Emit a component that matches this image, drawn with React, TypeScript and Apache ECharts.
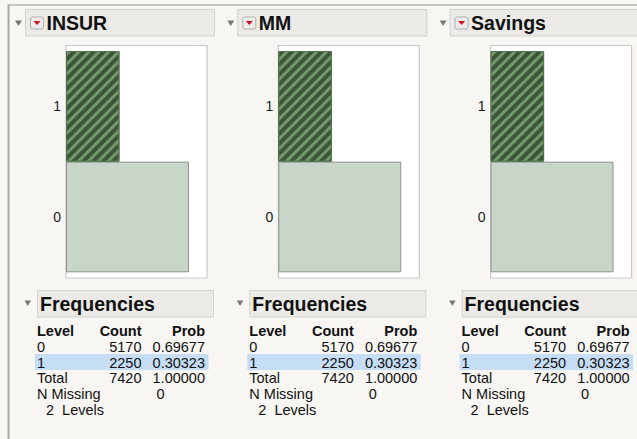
import React, { useEffect, useRef } from "react";
import * as echarts from "echarts";

const variables = ["INSUR", "MM", "Savings"];
const levels = ["0", "1"];
const counts = [
  [5170, 2250],
  [5170, 2250],
  [5170, 2250],
];
const probs = [
  ["0.69677", "0.30323"],
  ["0.69677", "0.30323"],
  ["0.69677", "0.30323"],
];
const totals = [7420, 7420, 7420];
const totalProbs = ["1.00000", "1.00000", "1.00000"];
const nMissing = [0, 0, 0];
const nLevels = [2, 2, 2];
const AXIS_MAX = 5930;

const FONT = "'Liberation Sans', Arial, Helvetica, sans-serif";
const BG = "#f7f6f3";
const DX = 212.3;

export default function App() {
  const ref = useRef<HTMLDivElement>(null);
  useEffect(() => {
    if (!ref.current) return;
    const chart = echarts.init(ref.current, undefined, { renderer: "svg" });

    const grids: any[] = [];
    const xAxes: any[] = [];
    const yAxes: any[] = [];
    const series: any[] = [];
    const graphics: any[] = [];

    graphics.push({
      type: "line",
      z: 0,
      shape: { x1: 8, y1: 5, x2: 637, y2: 5 },
      style: { stroke: "#b3b3b3", lineWidth: 1.5 },
    });
    graphics.push({
      type: "line",
      z: 0,
      shape: { x1: 8.5, y1: 5, x2: 8.5, y2: 439 },
      style: { stroke: "#a6a6a6", lineWidth: 2 },
    });

    variables.forEach((name, i) => {
      const o = i * DX;
      graphics.push({
        type: "rect",
        z: 0,
        shape: { x: 25.5 + o, y: 9.5, width: 189, height: 26.5 },
        style: { fill: "#ebeae6", stroke: "#d3d2ce", lineWidth: 1 },
      });
      graphics.push({
        type: "polygon",
        z: 1,
        shape: { points: [[15 + o, 20.5], [22 + o, 20.5], [18.5 + o, 26]] },
        style: { fill: "#787878" },
      });
      graphics.push({
        type: "rect",
        z: 1,
        shape: { x: 30.5 + o, y: 17, width: 13, height: 12, r: 2 },
        style: { fill: "#ececec", stroke: "#b0b0b0", lineWidth: 1 },
      });
      graphics.push({
        type: "polygon",
        z: 2,
        shape: { points: [[33.5 + o, 21], [40.5 + o, 21], [37 + o, 25]] },
        style: { fill: "#d0121e" },
      });
      graphics.push({
        type: "text",
        z: 2,
        x: 46.5 + o,
        y: 23,
        style: {
          text: name,
          fill: "#111",
          font: `bold 19.5px ${FONT}`,
          verticalAlign: "middle",
          textAlign: "left",
        },
      });
      graphics.push({
        type: "rect",
        z: 0,
        shape: { x: 66 + o, y: 45.5, width: 141, height: 232.5 },
        style: { fill: "#ffffff", stroke: "#c9c9c9", lineWidth: 1.2 },
      });

      grids.push({ left: 66 + o, top: 51, width: 141, height: 221.3 });
      xAxes.push({
        gridIndex: i,
        type: "value",
        min: 0,
        max: AXIS_MAX,
        show: false,
      });
      yAxes.push({
        gridIndex: i,
        type: "category",
        data: levels,
        axisLine: { show: false },
        axisTick: { show: false },
        splitLine: { show: false },
        axisLabel: {
          margin: 5,
          color: "#1a1a1a",
          fontSize: 14,
          fontFamily: FONT,
        },
      });
      series.push({
        type: "bar",
        xAxisIndex: i,
        yAxisIndex: i,
        barCategoryGap: "0%",
        z: 3,
        data: counts[i].map((v, k) =>
          k === 0
            ? {
                value: v,
                itemStyle: {
                  color: "#c8d6ca",
                  borderColor: "#8b918b",
                  borderWidth: 1,
                },
              }
            : {
                value: v,
                itemStyle: {
                  color: "#3d5639",
                  borderColor: "#52704c",
                  borderWidth: 1,
                  decal: {
                    symbol: "rect",
                    symbolSize: 1,
                    color: "#72986b",
                    dashArrayX: [1, 0],
                    dashArrayY: [3, 3.5],
                    rotation: -Math.PI / 4,
                  },
                },
              }
        ),
      });

      graphics.push({
        type: "polygon",
        z: 1,
        shape: { points: [[24.5 + o, 300.5], [31 + o, 300.5], [27.75 + o, 306]] },
        style: { fill: "#787878" },
      });
      graphics.push({
        type: "rect",
        z: 0,
        shape: { x: 37.5 + o, y: 290.5, width: 176, height: 26.5 },
        style: { fill: "#ebeae6", stroke: "#d3d2ce", lineWidth: 1 },
      });
      graphics.push({
        type: "text",
        z: 2,
        x: 40 + o,
        y: 304,
        style: {
          text: "Frequencies",
          fill: "#111",
          font: `bold 19.5px ${FONT}`,
          verticalAlign: "middle",
          textAlign: "left",
        },
      });
      graphics.push({
        type: "rect",
        z: 0,
        shape: { x: 35 + o, y: 354, width: 173.5, height: 16 },
        style: { fill: "#c6ddf6" },
      });
      const rowY = [331, 347, 362.5, 378, 394, 409.5];
      const colL = 37 + o;
      const colC = 141.5 + o;
      const colP = 205 + o;
      const txt = (t: string, x: number, y: number, align: string, bold = false) =>
        graphics.push({
          type: "text",
          z: 2,
          x,
          y,
          style: {
            text: t,
            fill: "#111",
            font: `${bold ? "bold " : ""}14.5px ${FONT}`,
            verticalAlign: "middle",
            textAlign: align,
          },
        });
      txt("Level", colL, rowY[0], "left", true);
      txt("Count", colC, rowY[0], "right", true);
      txt("Prob", colP, rowY[0], "right", true);
      levels.forEach((lv, k) => {
        txt(lv, colL, rowY[1 + k], "left");
        txt(String(counts[i][k]), colC, rowY[1 + k], "right");
        txt(probs[i][k], colP, rowY[1 + k], "right");
      });
      txt("Total", colL, rowY[3], "left");
      txt(String(totals[i]), colC, rowY[3], "right");
      txt(totalProbs[i], colP, rowY[3], "right");
      txt("N Missing", colL, rowY[4], "left");
      txt(String(nMissing[i]), 160.5 + o, rowY[4], "center");
      txt(`${nLevels[i]}  Levels`, 46 + o, rowY[5], "left");
    });

    chart.setOption({
      animation: false,
      backgroundColor: BG,
      grid: grids,
      xAxis: xAxes,
      yAxis: yAxes,
      series,
      graphic: { elements: graphics },
    });
    return () => chart.dispose();
  }, []);
  return (
    <div
      ref={ref}
      style={{ position: "absolute", left: 0, top: 0, width: 637, height: 439, background: BG }}
    />
  );
}
